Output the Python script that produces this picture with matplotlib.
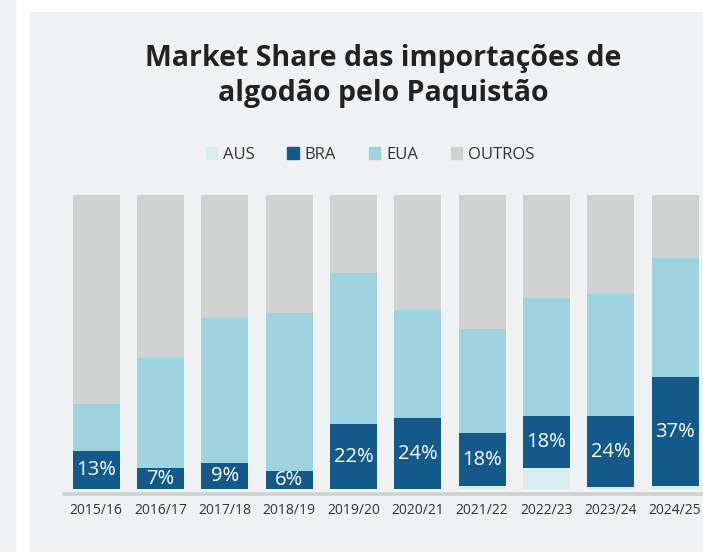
import matplotlib
matplotlib.use('Agg')
import matplotlib.pyplot as plt
from matplotlib.patches import Rectangle, Patch
import numpy as np

# Data (percent share per season)
seasons = ['2015/16', '2016/17', '2017/18', '2018/19', '2019/20',
           '2020/21', '2021/22', '2022/23', '2023/24', '2024/25']
aus = [0, 0, 0, 0, 0, 0, 1, 7, 0.7, 1]
bra = [13, 7, 9, 6, 22, 24, 18, 18, 24, 37]
eua = [16, 37.6, 49, 54, 51.5, 37, 35.5, 40, 41.5, 40.7]
outros = [71, 55.4, 42, 40, 26.5, 39, 45.5, 35, 33.8, 21.3]
bra_labels = ['13%', '7%', '9%', '6%', '22%', '24%', '18%', '18%', '24%', '37%']

c_aus = '#d9ecf2'
c_bra = '#135a8a'
c_eua = '#9dd2df'
c_outros = '#d0d2d2'
panel = '#f0f1f3'
text_c = '#333333'

plt.rcParams['font.family'] = ['Open Sans', 'DejaVu Sans']

W, H = 703, 552
fig = plt.figure(figsize=(W / 100, H / 100), dpi=100, facecolor='white')

# background panels
fig.patches.append(Rectangle((0, 0), 15 / W, 1, transform=fig.transFigure,
                             color='#f1f2f4', zorder=-10))
fig.patches.append(Rectangle((30 / W, 0), 1, (H - 12) / H, transform=fig.transFigure,
                             color=panel, zorder=-10))

ax = fig.add_axes([64 / W, (H - 489) / H, (W - 64) / W, 294 / H])
ax.set_facecolor('none')

x = np.arange(len(seasons))
w = 0.73
aus = np.array(aus); bra = np.array(bra); eua = np.array(eua); outros = np.array(outros)
ax.bar(x, aus, w, color=c_aus, edgecolor='none')
ax.bar(x, bra, w, bottom=aus, color=c_bra, edgecolor='none')
ax.bar(x, eua, w, bottom=aus + bra, color=c_eua, edgecolor='none')
ax.bar(x, outros, w, bottom=aus + bra + eua, color=c_outros, edgecolor='none')

for i, lab in enumerate(bra_labels):
    ax.text(x[i], aus[i] + bra[i] / 2, lab, ha='center', va='center',
            color='white', fontsize=14.5)

ax.axhline(-1.6, color='#cfd0d0', lw=2.6, clip_on=False)

ax.set_xlim(-0.5, (W - 96.5) / 64.3)
ax.set_ylim(0, 100)
ax.set_xticks(x)
ax.set_xticklabels(seasons, fontsize=10, color=text_c)
ax.tick_params(axis='x', length=0, pad=10)
ax.set_yticks([])
for s in ax.spines.values():
    s.set_visible(False)

fig.text(383 / W, 1 - 76 / H, 'Market Share das importações de\nalgodão pelo Paquistão',
         ha='center', va='center', fontsize=20.5, fontweight='bold',
         color='#222222', linespacing=1.3)

handles = [Patch(color=c) for c in (c_aus, c_bra, c_eua, c_outros)]
fig.legend(handles, ['AUS', 'BRA', 'EUA', 'OUTROS'], loc='center',
           bbox_to_anchor=(370 / W, 1 - 155 / H), ncol=4, frameon=False,
           fontsize=12, handlelength=0.7, handleheight=0.7, handletextpad=0.35,
           columnspacing=1.95, labelcolor=text_c)

fig.savefig('out.png', dpi=100, facecolor=fig.get_facecolor())
